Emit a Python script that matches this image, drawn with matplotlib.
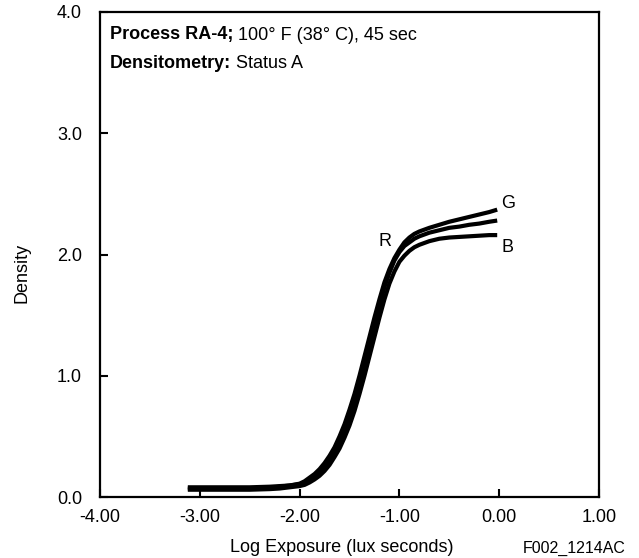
import matplotlib
matplotlib.use('Agg')
import matplotlib.pyplot as plt

plt.rcParams['font.family'] = ['Liberation Sans', 'DejaVu Sans']

# log exposure points
log_e = [-3.12, -2.8, -2.5, -2.3, -2.2, -2.1, -2.0, -1.95, -1.9, -1.85, -1.8, -1.75,
         -1.7, -1.65, -1.6, -1.55, -1.5, -1.45, -1.4, -1.35, -1.3, -1.25, -1.2,
         -1.15, -1.1, -1.05, -1.0, -0.95, -0.9, -0.85, -0.8, -0.7, -0.6, -0.5,
         -0.4, -0.3, -0.2, -0.1, -0.02]

# densities per layer
dens_r = [0.08, 0.08, 0.08, 0.085, 0.09, 0.095, 0.105, 0.12, 0.145, 0.175, 0.21, 0.255,
          0.31, 0.38, 0.46, 0.56, 0.67, 0.80, 0.94, 1.10, 1.26, 1.42, 1.58,
          1.73, 1.85, 1.95, 2.02, 2.07, 2.10, 2.13, 2.15, 2.18, 2.20, 2.22,
          2.23, 2.245, 2.255, 2.27, 2.28]
dens_g = [0.07, 0.07, 0.07, 0.075, 0.085, 0.095, 0.11, 0.13, 0.16, 0.19, 0.23, 0.28,
          0.34, 0.41, 0.50, 0.60, 0.72, 0.85, 1.00, 1.16, 1.32, 1.48, 1.63,
          1.77, 1.88, 1.97, 2.04, 2.10, 2.14, 2.17, 2.19, 2.22, 2.245, 2.27,
          2.29, 2.31, 2.33, 2.35, 2.37]
dens_b = [0.06, 0.06, 0.06, 0.065, 0.07, 0.08, 0.09, 0.10, 0.12, 0.145, 0.175, 0.215,
          0.265, 0.33, 0.40, 0.49, 0.59, 0.71, 0.85, 1.00, 1.16, 1.32, 1.48,
          1.63, 1.76, 1.86, 1.94, 1.99, 2.03, 2.06, 2.08, 2.11, 2.13, 2.14,
          2.145, 2.15, 2.155, 2.16, 2.16]

fig = plt.figure(figsize=(6.39, 5.58), dpi=100)
ax = fig.add_axes([100/639, 1-497/558, 499/639, 485/558])

for d in (dens_r, dens_g, dens_b):
    ax.plot(log_e, d, color='black', lw=3, solid_capstyle='butt',
            solid_joinstyle='round')

ax.set_xlim(-4, 1)
ax.set_ylim(0, 4)
ax.set_xticks([-4, -3, -2, -1, 0, 1])
ax.set_xticklabels(['-4.00', '-3.00', '-2.00', '-1.00', '0.00', '1.00'])
ax.set_yticks([0, 1, 2, 3, 4])
ax.set_yticklabels(['0.0', '1.0', '2.0', '3.0', '4.0'])
ax.tick_params(direction='in', length=6, width=1.5, labelsize=13)
ax.tick_params(axis='x', pad=9)
ax.tick_params(axis='y', pad=13)
for s in ax.spines.values():
    s.set_linewidth(1.6)

# curve labels
ax.text(0.09, 2.42, 'G', fontsize=13, ha='center', va='center')
ax.text(-1.14, 2.11, 'R', fontsize=13, ha='center', va='center')
ax.text(0.08, 2.06, 'B', fontsize=13, ha='center', va='center')

# header text
t1 = ax.text(110/639, 1-35/558, 'Process RA-4;', transform=fig.transFigure,
             fontsize=13, fontweight='bold', va='center')
ax.annotate(' 100° F (38° C), 45 sec', xy=(1, 0.5), xycoords=t1,
            fontsize=13, va='center')
t2 = ax.text(110/639, 1-64/558, 'Densitometry:', transform=fig.transFigure,
             fontsize=13, fontweight='bold', va='center')
ax.annotate(' Status A', xy=(1, 0.5), xycoords=t2, fontsize=13, va='center')

fig.text(342/639, 1-547/558, 'Log Exposure (lux seconds)', fontsize=13,
         ha='center', va='center')
fig.text(22/639, 1-273/558, 'Density', fontsize=13, rotation=90,
         ha='center', va='center')
fig.text(574/639, 1-548/558, 'F002_1214AC', fontsize=11.5, ha='center', va='center')

fig.savefig('out.png', dpi=100)
